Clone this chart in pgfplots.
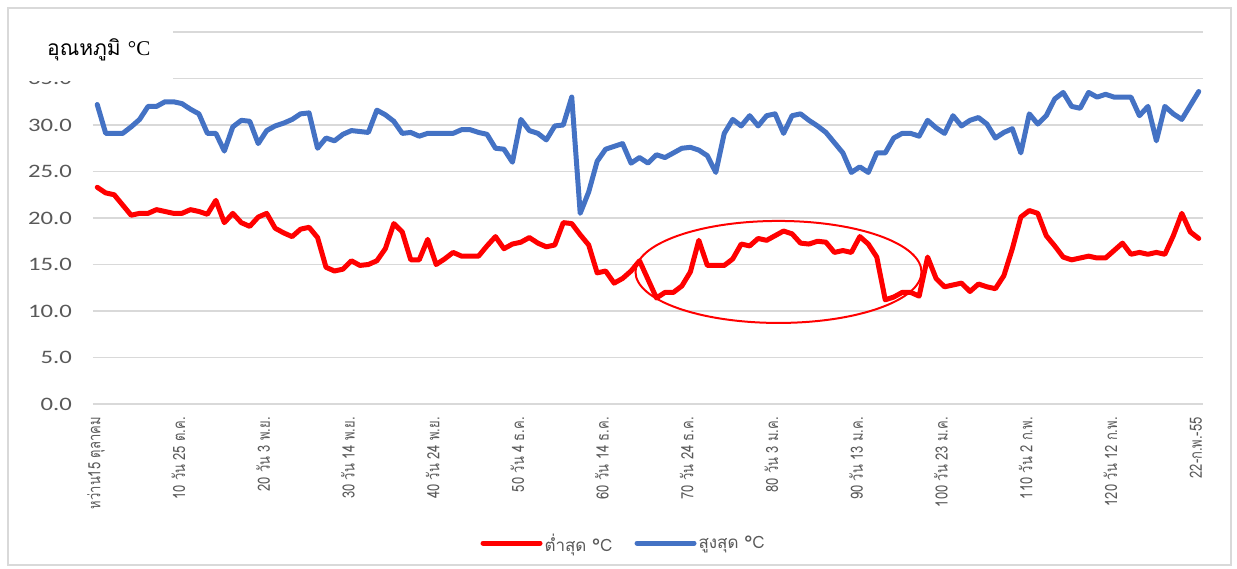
\documentclass[border=0pt]{standalone}
\usepackage{fontspec}
\usepackage{pgfplots}
\usepackage{pgfplotstable}
\pgfplotsset{compat=1.18}
\setmainfont{Carlito}
\newfontfamily\thaifont[Script=Thai]{Loma}
\newfontfamily\serifont{Liberation Serif}
\newfontfamily\tickfont[FakeStretch=1.3]{Carlito}
\definecolor{maxblue}{HTML}{4472C4}
\definecolor{txtgray}{HTML}{595959}
\definecolor{gridgray}{HTML}{D9D9D9}

% day after sowing, min and max temperature
\pgfplotstableread{
d tmin tmax
0 23.3 32.2
1 22.7 29.1
2 22.5 29.1
3 21.4 29.1
4 20.3 29.8
5 20.5 30.6
6 20.5 32.0
7 20.9 32.0
8 20.7 32.5
9 20.5 32.5
10 20.5 32.3
11 20.9 31.7
12 20.7 31.2
13 20.4 29.1
14 21.9 29.1
15 19.5 27.2
16 20.5 29.8
17 19.5 30.5
18 19.1 30.4
19 20.1 28.0
20 20.5 29.4
21 18.9 29.9
22 18.4 30.2
23 18.0 30.6
24 18.8 31.2
25 19.0 31.3
26 17.9 27.5
27 14.7 28.6
28 14.3 28.3
29 14.5 29.0
30 15.4 29.4
31 14.9 29.3
32 15.0 29.2
33 15.4 31.6
34 16.7 31.1
35 19.4 30.4
36 18.5 29.1
37 15.5 29.2
38 15.5 28.8
39 17.7 29.1
40 15.0 29.1
41 15.6 29.1
42 16.3 29.1
43 15.9 29.5
44 15.9 29.5
45 15.9 29.2
46 17.0 29.0
47 18.0 27.5
48 16.7 27.4
49 17.2 26.0
50 17.4 30.6
51 17.9 29.4
52 17.3 29.1
53 16.9 28.4
54 17.1 29.9
55 19.5 30.0
56 19.4 33.0
57 18.2 20.5
58 17.1 22.8
59 14.1 26.1
60 14.3 27.4
61 13.0 27.7
62 13.5 28.0
63 14.3 25.9
64 15.4 26.5
65 13.4 25.9
66 11.4 26.8
67 12.0 26.5
68 12.0 27.0
69 12.7 27.5
70 14.2 27.6
71 17.6 27.3
72 14.9 26.7
73 14.9 24.9
74 14.9 29.1
75 15.6 30.6
76 17.2 29.9
77 17.0 31.0
78 17.8 29.9
79 17.6 31.0
80 18.1 31.2
81 18.6 29.1
82 18.3 31.0
83 17.3 31.2
84 17.2 30.5
85 17.5 29.9
86 17.4 29.2
87 16.3 28.1
88 16.5 27.0
89 16.3 24.9
90 18.0 25.5
91 17.2 24.9
92 15.8 27.0
93 11.2 27.0
94 11.5 28.6
95 12.0 29.1
96 12.0 29.1
97 11.6 28.8
98 15.8 30.5
99 13.5 29.7
100 12.6 29.1
101 12.8 31.0
102 13.0 29.9
103 12.1 30.5
104 12.9 30.8
105 12.6 30.1
106 12.4 28.6
107 13.8 29.2
108 16.7 29.6
109 20.1 27.0
110 20.8 31.2
111 20.5 30.1
112 18.1 31.0
113 17.0 32.8
114 15.8 33.5
115 15.5 32.0
116 15.7 31.8
117 15.9 33.5
118 15.7 33.0
119 15.7 33.3
120 16.5 33.0
121 17.3 33.0
122 16.1 33.0
123 16.3 31.0
124 16.1 32.0
125 16.3 28.3
126 16.1 32.0
127 18.1 31.2
128 20.5 30.6
129 18.5 32.1
130 17.8 33.6
}\temps

\begin{document}
\begin{tikzpicture}
\useasboundingbox (-93pt,-164pt) rectangle (1144pt,404pt);
\draw[gridgray, line width=1.5pt] (-85pt,396pt) rectangle (1138pt,-161pt);
\begin{axis}[
    at={(0pt,0pt)}, anchor=south west,
    scale only axis,
    width=1110pt, height=372pt,
    xmin=-0.5, xmax=130.5,
    ymin=0, ymax=40,
    ytick={0,5,...,40},
    xtick={0,10,...,130},
    xticklabels={หว่าน15 ตุลาคม, 10 วัน 25 ต.ค., 20 วัน 3 พ.ย., 30 วัน 14 พ.ย., 40 วัน 24 พ.ย., 50 วัน 4 ธ.ค., 60 วัน 14 ธ.ค., 70 วัน 24 ธ.ค., 80 วัน 3 ม.ค., 90 วัน 13 ม.ค., 100 วัน 23 ม.ค., 110 วัน 2 ก.พ., 120 วัน 12 ก.พ., 22-ก.พ.-55},
    axis line style={draw=none},
    major tick length=0pt,
    ymajorgrids=true,
    major grid style={gridgray, line width=1.5pt},
    /pgf/number format/.cd, fixed, fixed zerofill, precision=1, assume math mode=true,
    /pgfplots/.cd,
    yticklabel style={font=\tickfont\fontsize{19}{22}\selectfont, text=txtgray, anchor=east, inner sep=0pt, xshift=-21pt},
    xticklabel style={font=\thaifont\fontsize{13}{15}\selectfont, text=txtgray, rotate=90, yscale=1.3, anchor=mid east, inner sep=0pt, xshift=-13pt},
    legend columns=2,
    legend style={at={(axis description cs:0.478,-0.374)}, anchor=center, draw=none, fill=none,
        font=\thaifont\fontsize{17}{20}\selectfont, text=txtgray,
        nodes={inner sep=2pt},
        /tikz/every even column/.append style={column sep=20pt}},
    legend image code/.code={\draw[#1] (0pt,0pt) -- (57pt,0pt);},
]
\addplot[red, line width=5pt, line join=round, line cap=round] table[x=d, y=tmin] {\temps};
\addlegendentry{ต่ำสุด °C}
\addplot[maxblue, line width=5pt, line join=round, line cap=round] table[x=d, y=tmax] {\temps};
\addlegendentry{สูงสุด °C}
\draw[red, line width=2pt] (axis cs:80.4,14.2) ellipse [x radius=143pt, y radius=51pt];
\end{axis}
\fill[white] (-73pt,323pt) rectangle (80pt,384pt);
\node[anchor=west, inner sep=0pt, font=\thaifont\fontsize{21}{24}\selectfont] at (-46pt,354pt) {อุณหภูมิ {\serifont °C}};
\end{tikzpicture}
\end{document}
